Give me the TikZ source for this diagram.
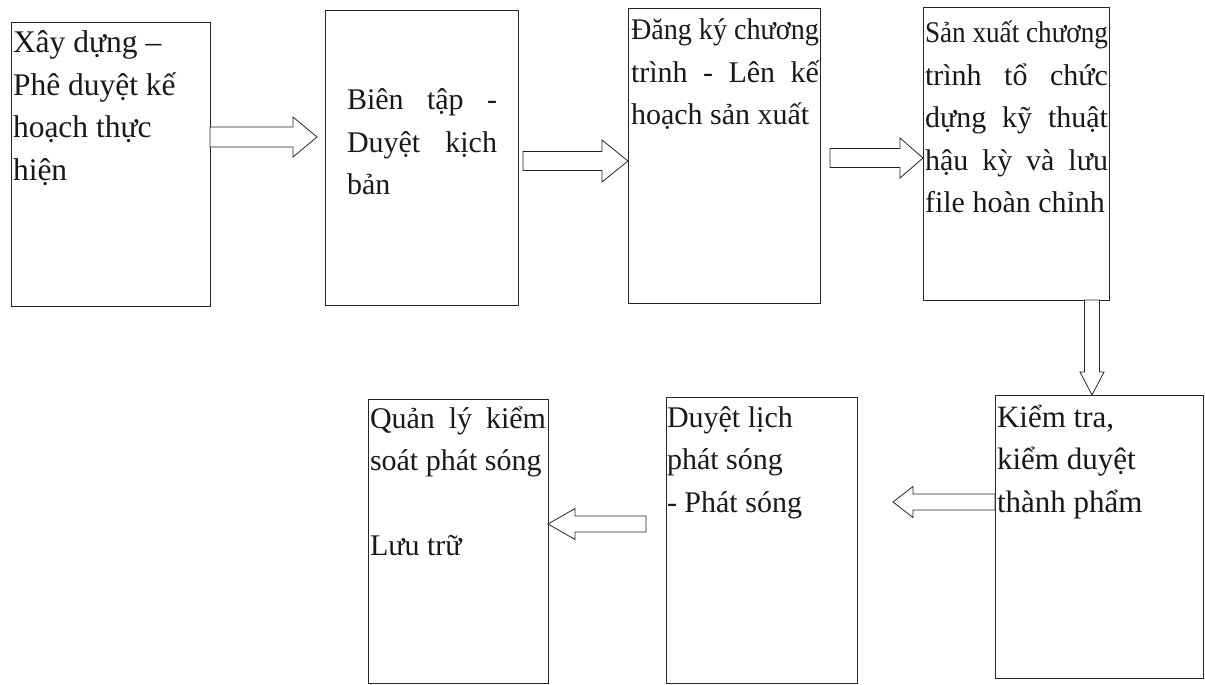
\documentclass[tikz,border=0pt]{standalone}
\usepackage{fontspec}
\usepackage{graphicx}
\setmainfont{Liberation Serif}
\usetikzlibrary{calc}
\newcommand\boxfont[1]{\fontsize{#1}{42.5pt}\selectfont}
\newcommand\boxtext[3]{\parbox[t]{#1}{\boxfont{#2}#3}}
% justified line: stretch spaces, or squeeze horizontally if too wide
\newcommand\jline[1]{\setbox0\hbox{#1}\ifdim\wd0>\linewidth\resizebox{\linewidth}{\height}{#1}\else\makebox[\linewidth][s]{#1}\fi}
% right/left block arrow: #1 start, #2 tip, #3 shaft half, #4 head half, #5 head length
\newcommand\harrow[5]{%
  \draw[blockarrow] let \p1=(#1), \p2=(#2), \n1={sign(\x2-\x1)} in
    (\x1,\y1+#3) -- (\x2-\n1*#5,\y1+#3) -- (\x2-\n1*#5,\y1+#4) -- (\x2,\y1)
    -- (\x2-\n1*#5,\y1-#4) -- (\x2-\n1*#5,\y1-#3) -- (\x1,\y1-#3) -- cycle;}
\newcommand\varrow[5]{%
  \draw[blockarrow] let \p1=(#1), \p2=(#2) in
    (\x1+#3,\y1) -- (\x1+#3,\y2+#5) -- (\x1+#4,\y2+#5) -- (\x1,\y2)
    -- (\x1-#4,\y2+#5) -- (\x1-#3,\y2+#5) -- (\x1-#3,\y1) -- cycle;}
\begin{document}
\begin{tikzpicture}[x=1pt,y=-1pt,
  flowbox/.style={draw=black!85, line width=0.8pt, fill=none, anchor=north west, inner sep=0pt, outer sep=0pt},
  txt/.style={anchor=base west, inner sep=0pt, outer sep=0pt, text=black!90},
  blockarrow/.style={draw=black!85, line width=0.8pt, fill=white, line join=miter}]
\useasboundingbox (0,0) rectangle (1205,685);
\fill[white] (0,0) rectangle (1205,685);

% boxes
\node[flowbox, minimum width=199pt, minimum height=284pt] (b1) at (11,22) {};
\node[flowbox, minimum width=193pt, minimum height=295pt] (b2) at (325,10) {};
\node[flowbox, minimum width=192pt, minimum height=295pt] (b3) at (628,8) {};
\node[flowbox, minimum width=186pt, minimum height=293pt] (b4) at (923,7) {};
\node[flowbox, minimum width=208pt, minimum height=283pt] (b5) at (995,395) {};
\node[flowbox, minimum width=191pt, minimum height=286pt] (b6) at (666,397) {};
\node[flowbox, minimum width=180pt, minimum height=284pt] (b7) at (368,399) {};

% texts
\node[txt] (t1) at (13,53) {\boxtext{195pt}{31.5pt}{Xây dựng –\\Phê duyệt kế\\hoạch thực\\hiện}};
\node[txt] (t2) at (347,110) {\boxtext{150pt}{30pt}{\jline{Biên tập -}\\\jline{Duyệt kịch}\\bản}};
\node[txt] (t3) at (631,40) {\boxtext{188pt}{30pt}{\jline{Đăng ký chương}\\\jline{trình - Lên kế}\\hoạch sản xuất}};
\node[txt] (t4) at (925,43) {\boxtext{183pt}{30pt}{\jline{Sản xuất chương}\\\jline{trình tổ chức}\\\jline{dựng kỹ thuật}\\\jline{hậu kỳ và lưu}\\file hoàn chỉnh}};
\node[txt] (t5) at (997,427) {\boxtext{200pt}{31pt}{Kiểm tra,\\kiểm duyệt\\thành phẩm}};
\node[txt] (t6) at (667,427) {\boxtext{185pt}{30pt}{Duyệt lịch\\phát sóng\\- Phát sóng}};
\node[txt] (t7) at (370,428) {\boxtext{176pt}{30pt}{\jline{Quản lý kiểm}\\soát phát sóng\\[42.5pt]Lưu trữ}};

% connector anchor points
\coordinate (a1s) at (b1.east |- 0,137);
\coordinate (a1e) at ($(b2.west |- 0,137)+(-8,0)$);
\coordinate (a2s) at ($(b2.east |- 0,161)+(5,0)$);
\coordinate (a2e) at (b3.west |- 0,161);
\coordinate (a3s) at ($(b3.east |- 0,158)+(10,0)$);
\coordinate (a3e) at (b4.west |- 0,158);
\coordinate (a4s) at (b4.south -| 1092,0);
\coordinate (a4e) at (b5.north -| 1092,0);
\coordinate (a5s) at (b5.west |- 0,502);
\coordinate (a5e) at ($(b6.east |- 0,502)+(36,0)$);
\coordinate (a6s) at ($(b6.west |- 0,524)+(-20,0)$);
\coordinate (a6e) at (b7.east |- 0,524);

\harrow{a1s}{a1e}{10}{20}{24}
\harrow{a2s}{a2e}{9.5}{21}{26}
\harrow{a3s}{a3e}{9.5}{20}{23}
\varrow{a4s}{a4e}{7.5}{12}{23}
\harrow{a5s}{a5e}{8}{15.5}{20}
\harrow{a6s}{a6e}{8}{15.5}{27}
\end{tikzpicture}
\end{document}
